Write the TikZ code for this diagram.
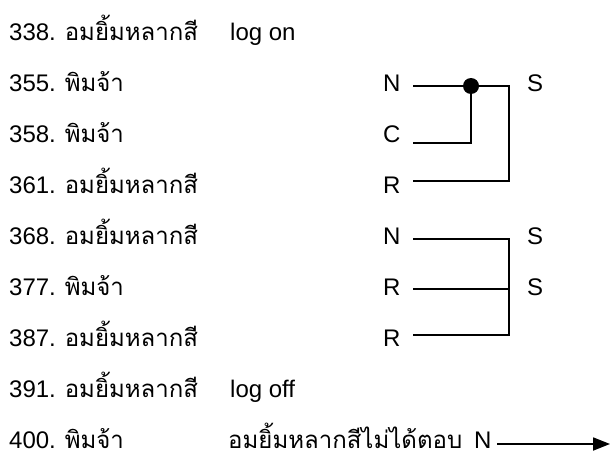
\documentclass[tikz,border=0pt]{standalone}
\usepackage{fontspec}
\setmainfont{Liberation Sans}
\newfontfamily\thaifont[Script=Thai]{Loma}
\usetikzlibrary{arrows.meta}

\begin{document}
\begin{tikzpicture}[x=1pt, y=-1pt, font=\fontsize{24}{28}\selectfont,
  every node/.style={inner sep=0pt, anchor=base west},
  wire/.style={line width=1.8pt}]
  \useasboundingbox (0,0) rectangle (610,460);

  % Log entries
  \node (r338) at (9,40.5) {338. {\thaifont อมยิ้มหลากสี}};
  \node (r355) at (9,91.5) {355. {\thaifont พิมจ้า}};
  \node (r358) at (9,142.5) {358. {\thaifont พิมจ้า}};
  \node (r361) at (9,193.5) {361. {\thaifont อมยิ้มหลากสี}};
  \node (r368) at (9,244.5) {368. {\thaifont อมยิ้มหลากสี}};
  \node (r377) at (9,295.5) {377. {\thaifont พิมจ้า}};
  \node (r387) at (9,346.5) {387. {\thaifont อมยิ้มหลากสี}};
  \node (r391) at (9,397.5) {391. {\thaifont อมยิ้มหลากสี}};
  \node (r400) at (9,448.5) {400. {\thaifont พิมจ้า}};

  % Notes
  \node (on) at (230,40.5) {log on};
  \node (off) at (230,397.5) {log off};
  \node (miss) at (228,448.5) {\thaifont อมยิ้มหลากสีไม่ได้ตอบ};

  % Codes
  \node (c355) at (383,91.5) {N};
  \node (c358) at (383,142.5) {C};
  \node (c361) at (383,193.5) {R};
  \node (c368) at (383,244.5) {N};
  \node (c377) at (383,295.5) {R};
  \node (c387) at (383,346.5) {R};
  \node (c400) at (474,448.5) {N};
  \node (s1) at (527,91.5) {S};
  \node (s2) at (527,244.5) {S};
  \node (s3) at (527,295.5) {S};

  % First group
  \coordinate (a355) at (413,86);
  \coordinate (a358) at (413,143);
  \coordinate (a361) at (413,181);
  \coordinate (dot) at (471,86);
  \coordinate (k1) at (509,86);
  \draw[wire] (a355) -- (k1) |- (a361);
  \draw[wire] (a358) -| (dot);
  \fill (dot) circle (8pt);

  % Second group
  \coordinate (a368) at (413,239);
  \coordinate (a377) at (413,289);
  \coordinate (a387) at (413,335);
  \coordinate (k2) at (509,239);
  \draw[wire] (a368) -- (k2) |- (a387);
  \draw[wire] (a377) -| (k2);

  % No reply
  \coordinate (a400) at (497,444);
  \coordinate (end) at (610,444);
  \draw[wire, -{Triangle[length=17pt, width=13pt]}] (a400) -- (end);
\end{tikzpicture}
\end{document}
